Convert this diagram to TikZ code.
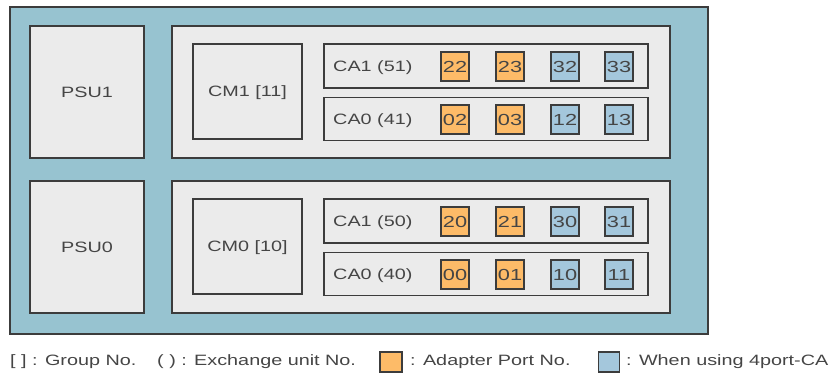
\documentclass[tikz,border=0pt]{standalone}
\usepackage{fontspec}
\setmainfont{Liberation Sans}
\usepackage{graphicx}
\definecolor{frameblue}{HTML}{97C3D0}
\definecolor{boxgray}{HTML}{EBEBEB}
\definecolor{edgegray}{HTML}{3C3C3C}
\definecolor{txtgray}{HTML}{454545}
\definecolor{portorange}{HTML}{FDBB68}
\definecolor{portblue}{HTML}{A4C7DC}
\newcommand{\wide}[1]{\scalebox{1.32}[1]{#1}}
\newcommand{\pwide}[1]{\scalebox{1.36}[1]{#1}}
\begin{document}
\begin{tikzpicture}[x=1pt,y=-1pt,
  box/.style={draw=edgegray, fill=boxgray, line width=1.3pt, inner sep=0pt,
    text=txtgray, font=\fontsize{15}{15}\selectfont, text height=10.7pt, text depth=0pt},
  port/.style={draw=edgegray, line width=1.2pt, inner sep=0pt,
    minimum width=28pt, minimum height=29pt, text=txtgray,
    font=\fontsize{16}{16}\selectfont, text height=11.4pt, text depth=0pt},
  aport/.style={port, fill=portorange},
  bport/.style={port, fill=portblue},
  lbl/.style={inner sep=0pt, text=txtgray, font=\fontsize{15}{15}\selectfont, anchor=base west},
  keybox/.style={draw=edgegray, line width=1.2pt, inner sep=0pt, minimum width=22pt, minimum height=20pt}
]
\useasboundingbox (0,0) rectangle (837,374);

% chassis
\node[draw=edgegray, fill=frameblue, line width=1.3pt, minimum width=698pt, minimum height=327pt] (chassis) at (359,170.5) {};

% power supplies
\node[box, minimum width=114pt, minimum height=132pt] (psu1) at (87,92) {\wide{PSU1}};
\node[box, minimum width=114pt, minimum height=132pt] (psu0) at (87,247) {\wide{PSU0}};

% controller panels
\node[box, minimum width=498pt, minimum height=132pt] (panel1) at (421,92) {};
\node[box, minimum width=498pt, minimum height=132pt] (panel0) at (421,247) {};

% controller modules
\node[box, minimum width=109pt, minimum height=95pt] (cm1) at (247.5,91.5) {\wide{CM1 [11]}};
\node[box, minimum width=109pt, minimum height=95pt] (cm0) at (247.5,246.5) {\wide{CM0 [10]}};

% channel adapter rows
\node[box, minimum width=324pt, minimum height=44pt] (ca151) at (486,66) {};
\node[box, minimum width=324pt, minimum height=43pt] (ca041) at (486,119) {};
\node[box, minimum width=324pt, minimum height=44pt] (ca150) at (486,221) {};
\node[box, minimum width=324pt, minimum height=43pt] (ca040) at (486,274) {};

\node[lbl] (l151) at (333,71.4) {\wide{CA1 (51)}};
\node[lbl] (l041) at (333,124.4) {\wide{CA0 (41)}};
\node[lbl] (l150) at (333,226.4) {\wide{CA1 (50)}};
\node[lbl] (l040) at (333,279.4) {\wide{CA0 (40)}};

% ports
\node[aport] (p22) at (455,66.5) {\pwide{22}};
\node[aport] (p23) at (510,66.5) {\pwide{23}};
\node[bport] (p32) at (565,66.5) {\pwide{32}};
\node[bport] (p33) at (619,66.5) {\pwide{33}};

\node[aport] (p02) at (455,119.5) {\pwide{02}};
\node[aport] (p03) at (510,119.5) {\pwide{03}};
\node[bport] (p12) at (565,119.5) {\pwide{12}};
\node[bport] (p13) at (619,119.5) {\pwide{13}};

\node[aport] (p20) at (455,221.5) {\pwide{20}};
\node[aport] (p21) at (510,221.5) {\pwide{21}};
\node[bport] (p30) at (565,221.5) {\pwide{30}};
\node[bport] (p31) at (619,221.5) {\pwide{31}};

\node[aport] (p00) at (455,274.5) {\pwide{00}};
\node[aport] (p01) at (510,274.5) {\pwide{01}};
\node[bport] (p10) at (565,274.5) {\pwide{10}};
\node[bport] (p11) at (619,274.5) {\pwide{11}};

% legend
\node[lbl] (kgroup) at (10,365.5) {\wide{[ ] : Group No.}};
\node[lbl] (kexch) at (157,365.5) {\wide{( ) : Exchange unit No.}};
\node[keybox, fill=portorange] (korange) at (391,362) {};
\node[lbl] (kadapter) at (410,365.5) {\wide{: Adapter Port No.}};
\node[keybox, fill=portblue, minimum width=21pt] (kblue) at (609,362) {};
\node[lbl] (k4port) at (626,365.5) {\wide{: When using 4port-CA}};
\end{tikzpicture}
\end{document}
